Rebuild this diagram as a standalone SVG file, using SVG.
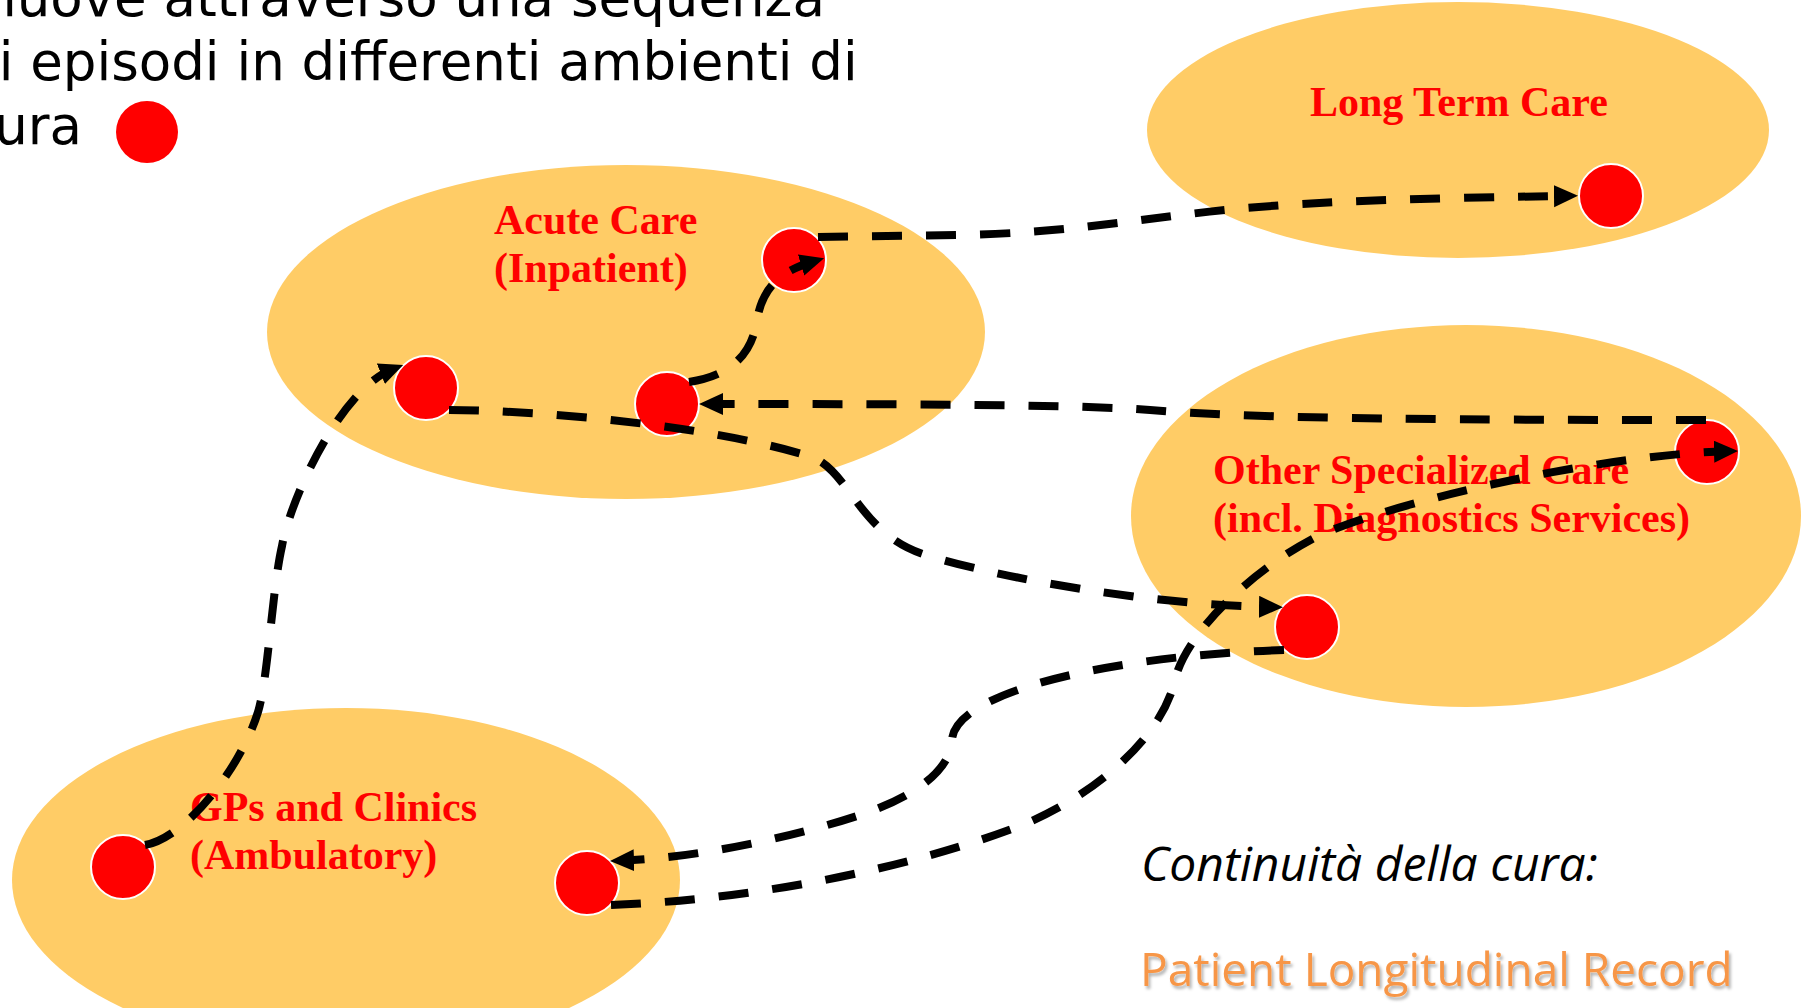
<svg xmlns="http://www.w3.org/2000/svg" width="1806" height="1008" viewBox="0 0 1806 1008">
<style>
.area{fill:#FFCC66;}
.lbl{font-family:"Liberation Serif","Times New Roman",serif;font-weight:bold;font-size:42px;fill:#FF0000;}
.dot{fill:#FF0000;stroke:#FFFFFF;stroke-width:2;}
.conn{fill:none;stroke:#000000;stroke-width:8;stroke-dasharray:30 24;marker-end:url(#arr);}
.intro{font-family:"DejaVu Sans",Verdana,sans-serif;font-size:53px;fill:#000000;}
</style>
<defs>
<marker id="arr" markerUnits="userSpaceOnUse" markerWidth="26" markerHeight="24" refX="12" refY="11" orient="auto">
<path d="M0,0 L24,11 L0,22 Z" fill="#000000"/>
</marker>
<filter id="sh" x="-5%" y="-20%" width="110%" height="150%">
<feDropShadow dx="2" dy="3" stdDeviation="1.5" flood-color="#000000" flood-opacity="0.3"/>
</filter>
</defs>
<rect width="1806" height="1008" fill="#FFFFFF"/>

<g id="intro">
<text class="intro" x="-35" y="16">muove attraverso una sequenza</text>
<text class="intro" x="-35" y="80">di episodi in differenti ambienti di</text>
<text class="intro" x="-35" y="144">cura</text>
<circle cx="147" cy="132" r="31" fill="#FF0000"/>
</g>

<g id="long-term-care">
<ellipse class="area" cx="1458" cy="130" rx="311" ry="128"/>
<text class="lbl" x="1310" y="116">Long Term Care</text>
<circle class="dot" cx="1611" cy="196" r="32"/>
</g>

<g id="acute-care">
<ellipse class="area" cx="626" cy="332" rx="359" ry="167"/>
<text class="lbl" x="494" y="234">Acute Care</text>
<text class="lbl" x="494" y="282">(Inpatient)</text>
<circle class="dot" cx="794" cy="260" r="32"/>
<circle class="dot" cx="426" cy="388" r="32"/>
<circle class="dot" cx="667" cy="404" r="32"/>
</g>

<g id="other-specialized-care">
<ellipse class="area" cx="1466" cy="516" rx="335" ry="191"/>
<text class="lbl" x="1213" y="484">Other Specialized Care</text>
<text class="lbl" x="1213" y="532">(incl. Diagnostics Services)</text>
<circle class="dot" cx="1707" cy="452" r="32"/>
<circle class="dot" cx="1307" cy="627" r="32"/>
</g>

<g id="gps-clinics">
<ellipse class="area" cx="346" cy="880" rx="334" ry="172"/>
<text class="lbl" x="190" y="821">GPs and Clinics</text>
<text class="lbl" x="190" y="869">(Ambulatory)</text>
<circle class="dot" cx="123" cy="867" r="32"/>
<circle class="dot" cx="587" cy="883" r="32"/>
</g>

<g id="continuity">
<text x="1141" y="881" font-family="'Open Sans','Noto Sans',sans-serif" font-style="italic" font-size="48" fill="#000000">Continuità della cura:</text>
<text x="1140" y="986" font-family="'Open Sans','Noto Sans',sans-serif" font-size="46" fill="#F79646" filter="url(#sh)">Patient Longitudinal Record</text>
</g>

<g id="connectors">
<path class="conn" d="M 818 237 L 960 235 C 1060 233, 1120 222, 1190 214 C 1260 205, 1350 199, 1566 196"/>
<path class="conn" d="M 689 382 C 730 376, 752 355, 757 320 C 762 290, 778 272, 812.6 261.6"/>
<path class="conn" d="M 449 410 C 560 411, 720 428, 812 457 C 850 472, 860 535, 926 555 C 1000 578, 1150 605, 1271 607"/>
<path class="conn" d="M 1706 420 C 1400 420, 1250 418, 1150 410 C 1080 405, 950 404, 711 404"/>
<path class="conn" d="M 145 845 C 185 838, 240 770, 258 712 C 268 680, 272 590, 282 546 C 290 500, 340 390, 392 369.4"/>
<path class="conn" d="M 1284 650 C 1120 655, 955 690, 952 740 C 950 775, 905 800, 860 815 C 800 835, 700 858, 622 860.6"/>
<path class="conn" d="M 611 905 C 750 900, 900 870, 1009 830 C 1080 805, 1160 745, 1175 680 C 1185 635, 1250 570, 1320 535 C 1400 500, 1600 455, 1726 451.3"/>
</g>
</svg>
